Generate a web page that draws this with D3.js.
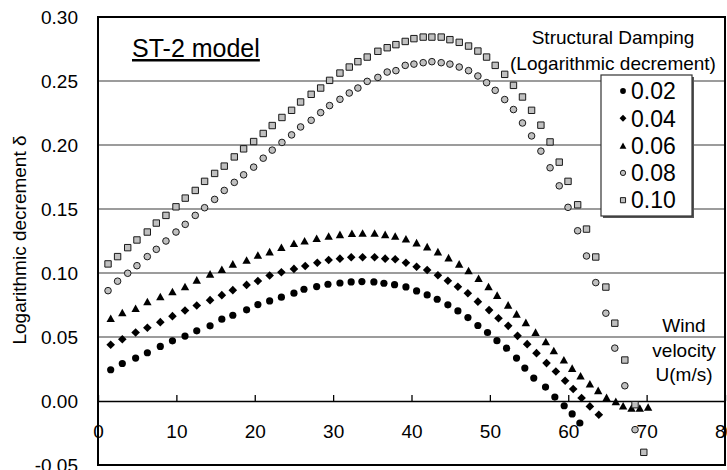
<!DOCTYPE html>
<html>
<head>
<meta charset="utf-8">
<script src="https://cdn.jsdelivr.net/npm/d3@7"></script>
<style>
  html, body { margin: 0; padding: 0; background: #fff; }
  svg { display: block; font-family: "Liberation Sans", Arial, sans-serif; }
</style>
</head>
<body>
<svg id="chart" width="727" height="470"></svg>
<script>
// Flutter response of the ST-2 model: logarithmic decrement vs. wind velocity
// for five levels of structural damping.

const seriesLabels = ["0.02", "0.04", "0.06", "0.08", "0.10"];

const u002 = [1.62, 3.1, 4.8, 6.3, 7.95, 9.5, 11.1, 12.6, 14.3, 15.8, 17.2, 18.96, 20.4, 21.9, 23.4, 25.0,
  26.28, 27.9, 29.34, 30.87, 32.3, 33.67, 35.2, 36.48, 37.84, 39.29, 40.65, 42.0, 43.28, 44.64, 45.92, 47.2,
  48.47, 49.7, 50.9, 52.13, 53.4, 54.46, 55.6, 57.1, 58.29, 59.48, 60.5, 61.48];
const d002 = [0.0244, 0.0293, 0.0335, 0.0377, 0.0426, 0.047, 0.0507, 0.0548, 0.0587, 0.0639, 0.067, 0.0712,
  0.0753, 0.0782, 0.0811, 0.0842, 0.0873, 0.0894, 0.0912, 0.0922, 0.093, 0.0933, 0.093, 0.092, 0.0909, 0.0891,
  0.086, 0.0829, 0.0795, 0.0751, 0.0704, 0.0652, 0.059, 0.0535, 0.0471, 0.0413, 0.0335, 0.0257, 0.0179, 0.0109,
  0.0031, -0.0037, -0.0101, -0.0172];

const u004 = [1.62, 3.1, 4.8, 6.3, 7.95, 9.5, 11.1, 12.6, 14.3, 15.8, 17.2, 18.96, 20.4, 21.9, 23.4, 25.0,
  26.44, 27.98, 29.43, 30.87, 32.31, 33.76, 35.29, 36.64, 37.92, 39.29, 40.65, 42.0, 43.37, 44.64, 45.92, 47.19,
  48.47, 49.9, 51.1, 52.34, 53.53, 54.76, 55.95, 57.23, 58.42, 59.6, 60.63, 61.7, 62.76, 63.9];
const d004 = [0.0439, 0.0483, 0.0535, 0.0572, 0.0616, 0.0663, 0.0707, 0.0746, 0.0788, 0.0827, 0.0866, 0.0907,
  0.0938, 0.098, 0.1006, 0.1032, 0.1055, 0.108, 0.1102, 0.1112, 0.1123, 0.1123, 0.1123, 0.1112, 0.1107, 0.108,
  0.1049, 0.1023, 0.0982, 0.094, 0.0893, 0.0842, 0.0776, 0.071, 0.0647, 0.0587, 0.0509, 0.0444, 0.0374, 0.0296,
  0.0231, 0.0158, 0.0094, 0.0023, -0.0042, -0.0107];

const u006 = [1.62, 3.1, 4.8, 6.3, 7.95, 9.5, 11.1, 12.6, 14.3, 15.8, 17.2, 18.96, 20.4, 21.9, 23.4, 25.0,
  26.36, 27.9, 29.43, 30.87, 32.4, 33.76, 35.29, 36.64, 37.92, 39.29, 40.65, 42.0, 43.37, 44.73, 46.08, 47.28,
  48.56, 49.83, 50.93, 52.33, 53.41, 54.59, 55.83, 57.14, 58.16, 59.44, 60.5, 61.57, 62.76, 63.82, 64.89, 66.07,
  67.0, 68.07, 69.13, 70.19];
const d006 = [0.0647, 0.0691, 0.0725, 0.0777, 0.0816, 0.0855, 0.0894, 0.0946, 0.0993, 0.1029, 0.1071, 0.1102,
  0.1141, 0.1167, 0.1201, 0.1232, 0.1252, 0.1271, 0.1289, 0.1302, 0.131, 0.1313, 0.1313, 0.1302, 0.1289, 0.1268,
  0.1237, 0.1206, 0.1167, 0.112, 0.1071, 0.1019, 0.0959, 0.0894, 0.0827, 0.0751, 0.0681, 0.0614, 0.0538, 0.0465,
  0.0395, 0.0322, 0.0257, 0.0197, 0.0135, 0.0083, 0.0028, -0.0003, -0.0037, -0.0055, -0.0055, -0.0047];

const u008 = [1.28, 2.5, 3.79, 4.97, 6.29, 7.44, 8.67, 9.95, 11.13, 12.41, 13.6, 14.88, 16.11, 17.39, 18.58,
  19.86, 21.08, 22.23, 23.47, 24.7, 25.85, 27.2, 28.41, 29.55, 30.87, 32.06, 33.16, 34.35, 35.71, 36.9, 38.01,
  39.2, 40.31, 41.49, 42.6, 43.79, 44.9, 46.09, 47.28, 48.47, 49.58, 50.68, 51.89, 53.01, 54.16, 55.32, 56.51,
  57.68, 58.85, 59.97, 61.2, 62.33, 63.51, 64.8, 65.94, 67.22, 68.52];
const d008 = [0.0862, 0.0936, 0.0998, 0.1057, 0.1128, 0.1185, 0.125, 0.132, 0.138, 0.145, 0.151, 0.1575,
  0.1645, 0.1708, 0.1767, 0.1827, 0.1897, 0.196, 0.202, 0.2079, 0.2141, 0.2193, 0.2253, 0.2308, 0.2357, 0.2406,
  0.2445, 0.2497, 0.2528, 0.257, 0.2581, 0.2622, 0.2632, 0.2643, 0.2651, 0.2643, 0.2632, 0.2609, 0.2581, 0.2539,
  0.2487, 0.2427, 0.2355, 0.2277, 0.2172, 0.2071, 0.1952, 0.1822, 0.1681, 0.1513, 0.133, 0.1133, 0.0925, 0.0686,
  0.0413, 0.0119, -0.0224];

const u010 = [1.28, 2.5, 3.79, 4.97, 6.29, 7.44, 8.67, 9.95, 11.13, 12.41, 13.6, 14.88, 16.11, 17.39, 18.58,
  19.86, 21.08, 22.23, 23.47, 24.7, 25.85, 27.2, 28.41, 29.55, 30.87, 32.06, 33.16, 34.35, 35.71, 36.9, 38.01,
  39.2, 40.31, 41.49, 42.6, 43.79, 44.9, 46.09, 47.28, 48.47, 49.58, 50.68, 51.89, 53.01, 54.16, 55.32, 56.51,
  57.68, 58.85, 59.97, 61.2, 62.33, 63.51, 64.8, 65.94, 67.22, 68.52, 69.64];
const d010 = [0.1071, 0.1128, 0.1198, 0.1258, 0.132, 0.139, 0.145, 0.1517, 0.1585, 0.1645, 0.1716, 0.1778,
  0.1835, 0.1907, 0.197, 0.2027, 0.209, 0.2152, 0.2215, 0.2271, 0.2336, 0.2396, 0.2445, 0.2505, 0.2562, 0.2609,
  0.2651, 0.2687, 0.2732, 0.276, 0.2784, 0.2809, 0.2831, 0.2843, 0.2843, 0.2843, 0.2823, 0.2802, 0.2773, 0.2734,
  0.2687, 0.2622, 0.2552, 0.2466, 0.2375, 0.2271, 0.2155, 0.2024, 0.1866, 0.1716, 0.1533, 0.1343, 0.1125, 0.089,
  0.0608, 0.032, -0.0029, -0.0401];

const xTicks = [0, 10, 20, 30, 40, 50, 60, 70, 80];
const yTicks = [-0.05, 0.00, 0.05, 0.10, 0.15, 0.20, 0.25, 0.30];
const gridValues = [0.05, 0.10, 0.15, 0.20, 0.25];

// ---- marker shapes ----
const GRAY = "#c0c0c0";
const EDGE = "#1a1a1a";
function circlePath(r) { return `M${r},0A${r},${r} 0 1,1 ${-r},0A${r},${r} 0 1,1 ${r},0Z`; }
function diamondPath(s) { return `M0,${-s}L${s},0L0,${s}L${-s},0Z`; }
function trianglePath(w, h) { return `M0,${-h / 2}L${w / 2},${h / 2}L${-w / 2},${h / 2}Z`; }
function squarePath(s) { return `M${-s / 2},${-s / 2}H${s / 2}V${s / 2}H${-s / 2}Z`; }

const styles = [
  { path: k => circlePath(3.6 * k), fill: "#000", stroke: "none", sw: 0 },
  { path: k => diamondPath(4.3 * k), fill: "#000", stroke: "none", sw: 0 },
  { path: k => trianglePath(8.4 * k, 7.6 * k), fill: "#000", stroke: "none", sw: 0 },
  { path: k => circlePath(3.3 * k), fill: GRAY, stroke: EDGE, sw: 1 },
  { path: k => squarePath(6.4 * k), fill: GRAY, stroke: EDGE, sw: 1 }
];

const series = [
  { u: u002, d: d002 },
  { u: u004, d: d004 },
  { u: u006, d: d006 },
  { u: u008, d: d008 },
  { u: u010, d: d010 }
];

// ---- layout ----
const svg = d3.select("#chart");
const x = d3.scaleLinear().domain([0, 80]).range([98, 725]);
const y = d3.scaleLinear().domain([-0.05, 0.30]).range([465, 17]);

// horizontal gridlines
svg.append("g").selectAll("line").data(gridValues).join("line")
  .attr("x1", x(0)).attr("x2", x(80))
  .attr("y1", d => y(d)).attr("y2", d => y(d))
  .attr("stroke", "#3a3a3a").attr("stroke-width", 1.2);

// x axis along delta = 0, ticks pointing up into the plot
const xAxis = d3.axisBottom(x).tickValues(xTicks).tickSizeInner(-6).tickSizeOuter(0).tickPadding(24);
const gx = svg.append("g").attr("transform", `translate(0,${y(0)})`).call(xAxis);
gx.select(".domain").attr("stroke", "#000").attr("stroke-width", 1.5);
gx.selectAll(".tick line").attr("stroke", "#000").attr("stroke-width", 1.3);
gx.selectAll(".tick text").attr("font-size", 19).attr("fill", "#000")
  .attr("font-family", "Liberation Sans, Arial, sans-serif");

// y axis labels
const yAxis = d3.axisLeft(y).tickValues(yTicks).tickSize(0).tickPadding(20).tickFormat(v => v.toFixed(2));
const gy = svg.append("g").attr("transform", `translate(${x(0)},0)`).call(yAxis);
gy.select(".domain").remove();
gy.selectAll(".tick text").attr("font-size", 19).attr("fill", "#000")
  .attr("font-family", "Liberation Sans, Arial, sans-serif");

// plot frame
svg.append("rect")
  .attr("x", x(0)).attr("y", y(0.30))
  .attr("width", x(80) - x(0)).attr("height", y(-0.05) - y(0.30))
  .attr("fill", "none").attr("stroke", "#000").attr("stroke-width", 2);

// data markers
series.forEach((s, i) => {
  const st = styles[i];
  svg.append("g").selectAll("path").data(s.u.map((u, j) => [u, s.d[j]])).join("path")
    .attr("d", st.path(1))
    .attr("transform", p => `translate(${x(p[0])},${y(p[1])})`)
    .attr("fill", st.fill).attr("stroke", st.stroke).attr("stroke-width", st.sw);
});

// y axis title
svg.append("text")
  .attr("transform", "translate(26,240) rotate(-90)")
  .attr("text-anchor", "middle").attr("font-size", 19)
  .text("Logarithmic decrement δ");

// model name
svg.append("text")
  .attr("x", 132).attr("y", 57).attr("font-size", 25)
  .attr("text-decoration", "underline")
  .text("ST-2 model");

// x axis title inside the plot
const windLines = ["Wind", "velocity", "U(m/s)"];
svg.append("g").selectAll("text").data(windLines).join("text")
  .attr("x", 684).attr("y", (d, i) => 332 + i * 24.5)
  .attr("text-anchor", "middle").attr("font-size", 19)
  .text(d => d);

// legend heading
const legendTitle = ["Structural Damping", "(Logarithmic decrement)"];
svg.append("g").selectAll("text").data(legendTitle).join("text")
  .attr("x", 613).attr("y", (d, i) => 44 + i * 26)
  .attr("text-anchor", "middle").attr("font-size", 19)
  .text(d => d);

// legend box
const lg = svg.append("g");
lg.append("rect").attr("x", 603).attr("y", 77).attr("width", 91).attr("height", 141).attr("fill", "#555");
lg.append("rect").attr("x", 601).attr("y", 75).attr("width", 91).attr("height", 141)
  .attr("fill", "#fff").attr("stroke", "#333").attr("stroke-width", 1.2);
seriesLabels.forEach((lab, i) => {
  const cy = 91 + i * 27.3;
  const st = styles[i];
  lg.append("path").attr("d", st.path(0.8))
    .attr("transform", `translate(623,${cy})`)
    .attr("fill", st.fill).attr("stroke", st.stroke).attr("stroke-width", st.sw);
  lg.append("text").attr("x", 631).attr("y", cy).attr("dy", "0.36em")
    .attr("font-size", 23).text(lab);
});
</script>
</body>
</html>
